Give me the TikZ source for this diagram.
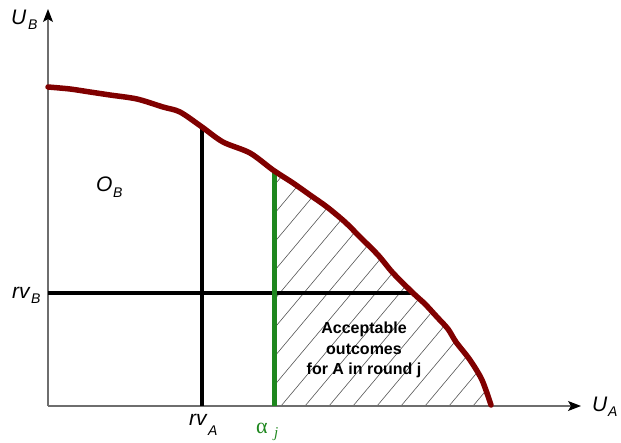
\documentclass[tikz,border=0pt]{standalone}
\usepackage{fontspec}
\setmainfont{Liberation Sans}
\newfontfamily\greekserif{Liberation Serif}
\usetikzlibrary{arrows.meta}
\definecolor{curvered}{RGB}{128,0,0}
\definecolor{alphagreen}{RGB}{30,135,30}
\definecolor{axisgray}{RGB}{110,110,110}
\definecolor{hatchgray}{RGB}{85,85,85}
\tikzset{
  axisline/.style={axisgray, line width=1.1pt, -{Stealth[black, length=13pt, width=10pt, inset=3pt]}},
  frontier/.style={curvered, line width=5.5pt, line cap=round, line join=round},
  rvline/.style={black, line width=3.4pt},
  alphaline/.style={alphagreen, line width=5pt},
  hatchline/.style={hatchgray, line width=0.6pt},
  lbl/.style={inner sep=0pt, font=\fontsize{21}{22}\selectfont\itshape},
  sublbl/.style={inner sep=0pt, font=\fontsize{14}{15}\selectfont\itshape},
  areatext/.style={inner sep=0pt, align=center, font=\fontsize{16}{20.5}\selectfont\bfseries}
}
\newcommand{\frontierpts}{(48,87) (70,89) (90,92) (110,95) (137,99) (163,107) (180,112) (202,127) (223,142) (250,153) (273,170) (293,183) (310,195) (327,207) (345,222) (360,237) (378,255) (393,273) (413,293) (425,304) (437,317) (448,329) (456,342) (470,360) (482,380) (491,405)}
\begin{document}
\begin{tikzpicture}[x=1pt, y=-1pt]
\useasboundingbox (0,0) rectangle (621,442);
% named points
\coordinate (O) at (48,406);
\coordinate (ytip) at (48,9);
\coordinate (xtip) at (581,406);
\coordinate (rvAtop) at (202,127);
\coordinate (rvAbot) at (202,406);
\coordinate (rvBleft) at (48,293);
\coordinate (rvBright) at (414,293);
\coordinate (alphatop) at (274,171);
\coordinate (alphabot) at (274,406);
% hatching
\begin{scope}
  \clip (274,0) rectangle (600,406);
  \clip plot[smooth, tension=0.5] coordinates {\frontierpts} -- (491,406) -- (48,406) -- cycle;
  \foreach \x in {-007,17,...,520} {
    \draw[hatchline] (\x,406) -- ++(250,-298);
  }
\end{scope}
% axes
\draw[axisline] (O) -- (ytip);
\draw[axisline] (O) -- (xtip);
% lines
\draw[rvline] (rvAbot) -- (rvAtop);
\draw[rvline] (rvBleft) -- (rvBright);
\draw[alphaline] (alphabot) -- (alphatop);
% frontier
\draw[frontier] plot[smooth, tension=0.5] coordinates {\frontierpts};
% labels
\node[lbl, anchor=base west] (UB) at (11,24) {U};
\node[sublbl, anchor=base west] (UBs) at (28,29) {B};
\node[lbl, anchor=base west] (UA) at (592,411) {U};
\node[sublbl, anchor=base west] (UAs) at (608,416) {A};
\node[lbl, anchor=base west] (OB) at (96,191) {O};
\node[sublbl, anchor=base west] (OBs) at (113,197) {B};
\node[lbl, anchor=base west] (rvB) at (12,298) {rv};
\node[sublbl, anchor=base west] (rvBs) at (31,303) {B};
\node[lbl, anchor=base west] (rvA) at (189,425) {rv};
\node[sublbl, anchor=base west] (rvAs) at (208,435) {A};
\node[inner sep=0pt, anchor=base west, text=alphagreen, font=\fontsize{22}{22}\selectfont\greekserif] (al) at (256,433) {α};
\node[inner sep=0pt, anchor=base west, text=alphagreen, font=\fontsize{15}{15}\selectfont\greekserif\itshape] (alj) at (274,437) {j};
\node[areatext] (acc) at (364,350) {Acceptable\\outcomes\\for A in round j};
\end{tikzpicture}
\end{document}
